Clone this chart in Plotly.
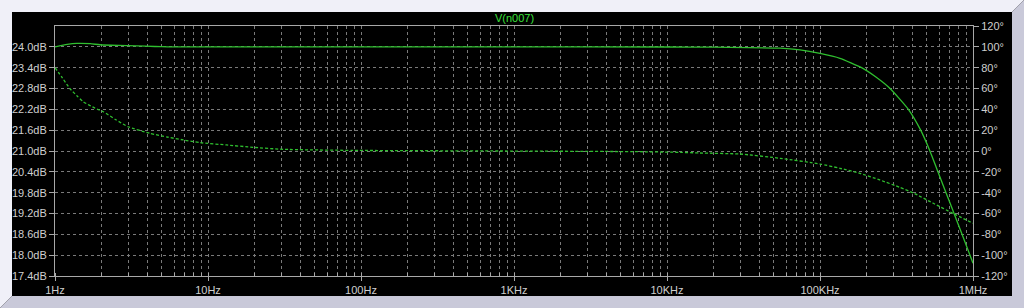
import plotly.graph_objects as go

# ---- data ----
mag_freq = [1, 1.2, 1.39, 1.7, 1.97, 2.6, 3.42, 4.5, 5.47, 10, 100, 1000, 10000, 20000,
            54800, 74000, 100000, 135000, 187000, 232000, 287000, 378000, 455000, 523000,
            590000, 666000, 752000, 848000, 1000000]
mag_db = [24.00, 24.07, 24.10, 24.09, 24.06, 24.04, 24.03, 24.01, 24.00, 24.00, 24.00, 24.00, 23.995, 23.99,
          23.96, 23.91, 23.81, 23.67, 23.40, 23.13, 22.80, 22.20, 21.60, 21.00,
          20.40, 19.80, 19.20, 18.60, 17.77]

ph_freq = [1, 1.12, 1.25, 1.39, 1.53, 1.83, 2.07, 2.5, 3.0, 4.17, 5.5, 6.9, 8.9, 13.2, 19.7, 31,
           89, 800, 6000, 12200, 16400, 30000, 54800, 100000, 135000, 182000, 246000, 333000,
           408000, 550000, 743000, 1000000]
ph_deg = [80, 70, 60, 53, 47.3, 41, 37.7, 30, 23.3, 17, 13.2, 10.6, 8.0, 5.8, 3.5, 1.6,
          0.6, 0, -0.6, -1.3, -1.9, -2.9, -7.0, -12.5, -16.6, -21.4, -27.8, -34.9,
          -40.3, -50.2, -60.0, -69.4]

x_tickvals = [1, 10, 100, 1000, 10000, 100000, 1000000]
x_ticktext = ["1Hz", "10Hz", "100Hz", "1KHz", "10KHz", "100KHz", "1MHz"]
db_ticks = [17.4, 18.0, 18.6, 19.2, 19.8, 20.4, 21.0, 21.6, 22.2, 22.8, 23.4, 24.0]
db_text = [f"{v:.1f}dB" for v in db_ticks]
deg_ticks = list(range(-120, 121, 20))
deg_text = [f"{v}°" for v in deg_ticks]
title_text = "V(n007)"

# ---- layout geometry (pixels) ----
W, H = 1024, 308
L, R, T, B = 55, 973, 26, 276

def px(x):
    return (x - L) / (R - L)

def py(y):
    return (B - y) / (B - T)

def path(points):
    return "M " + " L ".join(f"{px(a)},{py(b)}" for a, b in points) + " Z"

LINE = "#2fbf2f"
GRID = "#7a7a7a"
FRAME = "#a8a8a8"
TXT = "#cfcfcf"
FONT = "Liberation Sans"

fig = go.Figure()
fig.add_trace(go.Scatter(x=mag_freq, y=mag_db, mode="lines",
                         line=dict(color=LINE, width=1.3, shape="spline", smoothing=0.5),
                         yaxis="y", showlegend=False))
fig.add_trace(go.Scatter(x=ph_freq, y=ph_deg, mode="lines",
                         line=dict(color=LINE, width=1.3, dash="3px,2px", shape="spline",
                                   smoothing=0.5),
                         yaxis="y2", showlegend=False))

fig.update_layout(
    width=W, height=H,
    margin=dict(l=L, r=W - R, t=T, b=H - B, pad=0),
    paper_bgcolor="#000000", plot_bgcolor="#000000",
    font=dict(family=FONT, size=11, color=TXT),
    xaxis=dict(type="log", range=[0, 6], tickvals=x_tickvals, ticktext=x_ticktext,
               showgrid=True, gridcolor=GRID, griddash="3px,3px", gridwidth=1,
               showline=True, linecolor=FRAME, linewidth=1, mirror=True,
               ticks="outside", ticklen=4, tickcolor=FRAME,
               minor=dict(dtick="D1", showgrid=True, gridcolor=GRID, griddash="3px,3px",
                          ticks="inside", ticklen=3, tickcolor=FRAME),
               tickfont=dict(family=FONT, size=11, color=TXT), zeroline=False),
    yaxis=dict(range=[17.4, 24.6], tickvals=db_ticks, ticktext=db_text,
               showgrid=True, gridcolor=GRID, griddash="3px,3px",
               showline=True, linecolor=FRAME, mirror=True,
               ticks="outside", ticklen=5, tickcolor=FRAME, zeroline=False,
               tickfont=dict(family=FONT, size=11, color=TXT)),
    yaxis2=dict(range=[-120, 120], tickvals=deg_ticks, ticktext=deg_text,
                overlaying="y", side="right", showgrid=False, zeroline=False,
                ticks="outside", ticklen=5, tickcolor=FRAME,
                tickfont=dict(family=FONT, size=11, color=TXT)),
    annotations=[dict(text=title_text, x=0.5, y=py(18), xref="paper", yref="paper",
                      showarrow=False, xanchor="center", yanchor="middle",
                      font=dict(family=FONT, size=11, color="#3ae03a"))],
    shapes=[
        dict(type="path", xref="paper", yref="paper", layer="above", line=dict(width=0),
             fillcolor="#f0f0f8",
             path=path([(0, 0), (W, 0), (W - 12, 12), (12, 12), (12, H - 12), (0, H)])),
        dict(type="path", xref="paper", yref="paper", layer="above", line=dict(width=0),
             fillcolor="#c9c9d9",
             path=path([(W, 0), (W, H), (0, H), (12, H - 12), (W - 12, H - 12), (W - 12, 12)])),
    ],
)

fig.write_html("out.html")
